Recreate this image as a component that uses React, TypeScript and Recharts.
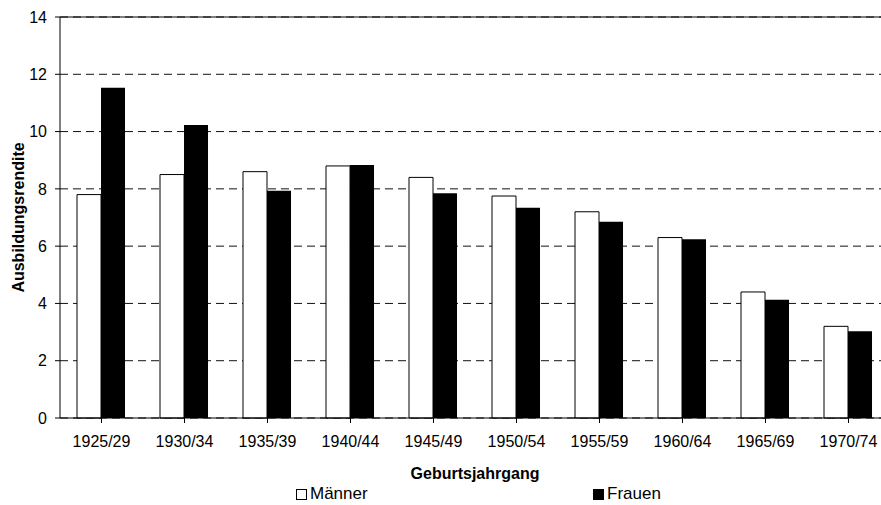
import { BarChart, Bar, XAxis, YAxis, CartesianGrid, ReferenceLine, Legend } from "recharts";

const cohorts = [
  "1925/29", "1930/34", "1935/39", "1940/44", "1945/49",
  "1950/54", "1955/59", "1960/64", "1965/69", "1970/74",
];
const maenner = [7.8, 8.5, 8.6, 8.8, 8.4, 7.75, 7.2, 6.3, 4.4, 3.2];
const frauen = [11.53, 10.23, 7.93, 8.83, 7.85, 7.34, 6.85, 6.24, 4.13, 3.03];
const yTicks = [0, 2, 4, 6, 8, 10, 12, 14];
const seriesNames = ["Männer", "Frauen"];
const seriesFills = ["#fff", "#000"];

const data = cohorts.map((c, i) => ({ cohort: c, maenner: maenner[i], frauen: frauen[i] }));

const FONT = "'Liberation Sans', Arial, sans-serif";

function LegendBox() {
  const lefts = [296, 593];
  return (
    <div style={{ position: "relative", width: 900, height: 20, fontFamily: FONT, fontSize: 17 }}>
      {seriesNames.map((name, i) => (
        <div
          key={name}
          style={{ position: "absolute", left: lefts[i], top: 0, display: "flex", alignItems: "center", lineHeight: "20px" }}
        >
          <span
            style={{
              display: "inline-block",
              width: 11,
              height: 11,
              boxSizing: "border-box",
              border: "1px solid #000",
              background: seriesFills[i],
              marginRight: 3,
            }}
          />
          <span style={{ color: "#000" }}>{name}</span>
        </div>
      ))}
    </div>
  );
}

export default function App() {
  return (
    <div style={{ position: "absolute", left: 0, top: 0, width: 881, height: 505, overflow: "hidden", background: "#fff" }}>
      <BarChart
        width={900}
        height={505}
        data={data}
        margin={{ top: 17, right: 10, left: 0, bottom: 0 }}
        barCategoryGap="20.5%"
        barGap={0}
        style={{ fontFamily: FONT }}
      >
        <CartesianGrid vertical={false} stroke="#111" strokeDasharray="8 5" />
        <ReferenceLine y={14} stroke="#000" strokeWidth={1} />
        <XAxis
          dataKey="cohort"
          stroke="#000"
          tickSize={5}
          tickMargin={13}
          height={67}
          interval={0}
          tick={{ fill: "#000", fontSize: 16 }}
          tickLine={{ stroke: "#000" }}
          label={() => (
            <text x={475} y={479} textAnchor="middle" fontSize={16} fontWeight="bold" fill="#000" fontFamily={FONT}>
              Geburtsjahrgang
            </text>
          )}
        />
        <YAxis
          domain={[0, 14]}
          ticks={yTicks}
          width={60}
          stroke="#000"
          tickSize={5}
          tickMargin={8}
          interval={0}
          tick={{ fill: "#000", fontSize: 16 }}
          label={() => (
            <text
              x={18}
              y={217.5}
              transform="rotate(-90, 18, 217.5)"
              textAnchor="middle"
              dominantBaseline="central"
              fontSize={16}
              fontWeight="bold"
              fill="#000"
              fontFamily={FONT}
            >
              Ausbildungsrendite
            </text>
          )}
        />
        <Legend
          content={<LegendBox />}
          wrapperStyle={{ position: "absolute", left: 0, top: 484, width: 900, height: 20 }}
        />
        <Bar dataKey="maenner" name={seriesNames[0]} fill={seriesFills[0]} stroke="#000" strokeWidth={1} isAnimationActive={false} />
        <Bar dataKey="frauen" name={seriesNames[1]} fill={seriesFills[1]} isAnimationActive={false} />
      </BarChart>
    </div>
  );
}
